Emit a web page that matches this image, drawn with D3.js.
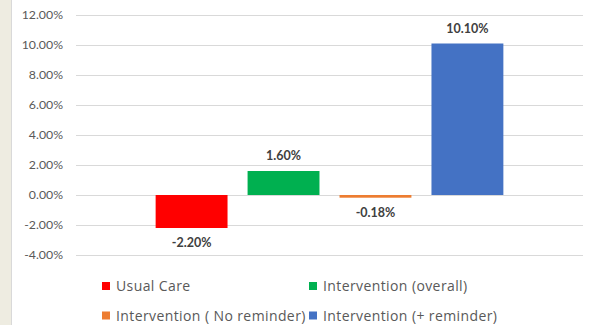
<!DOCTYPE html>
<html>
<head>
<meta charset="utf-8">
<script src="https://cdn.jsdelivr.net/npm/d3@7"></script>
<style>
  html, body { margin: 0; padding: 0; background: #ffffff; }
  svg { display: block; }
</style>
</head>
<body>
<svg id="chart" width="591" height="325"></svg>
<script>
// Change in outcome by study arm
const seriesNames = ["Usual Care", "Intervention (overall)", "Intervention ( No reminder)", "Intervention (+ reminder)"];
const seriesValues = [-2.20, 1.60, -0.18, 10.10];
const seriesColors = ["#ff0000", "#00b050", "#ed7d31", "#4472c4"];
const yTicks = [-4, -2, 0, 2, 4, 6, 8, 10, 12];

const W = 591, H = 325;
const plot = { left: 76, right: 583, top: 15, bottom: 255 };
const font = "Lato, 'Open Sans', sans-serif";
const legendFont = "'Open Sans', Lato, sans-serif";

// percentages with a plain hyphen for negatives
const pct = v => d3.format(".2f")(v).replace("\u2212", "-") + "%";

const svg = d3.select("#chart");

// beige margin strip on the left edge
svg.append("rect").attr("x", 0).attr("y", 0).attr("width", 11).attr("height", H).attr("fill", "#eeece1");
svg.append("line").attr("x1", 11.5).attr("x2", 11.5).attr("y1", 0).attr("y2", H)
  .attr("stroke", "#d9d9d9").attr("stroke-width", 1);

const y = d3.scaleLinear().domain([-4, 12]).range([plot.bottom, plot.top]);

// one category holding four clustered bars
const x0 = d3.scaleBand().domain(["all"]).range([plot.left, plot.right]).paddingOuter(0.229);
const x1 = d3.scaleBand().domain(seriesNames).range([0, x0.bandwidth()]).paddingInner(0.218);

// horizontal gridlines
const yAxis = d3.axisLeft(y).tickValues(yTicks)
  .tickSize(-(plot.right - plot.left)).tickPadding(13)
  .tickFormat(pct);

const gAxis = svg.append("g").attr("transform", `translate(${plot.left},0)`).call(yAxis);
gAxis.select(".domain").remove();
gAxis.selectAll(".tick line").attr("stroke", "#d9d9d9").attr("stroke-width", 1);
gAxis.selectAll(".tick text").attr("fill", "#595959").attr("font-family", font).attr("font-size", 12.3);

const data = seriesNames.map((name, i) => ({ name, value: seriesValues[i], color: seriesColors[i] }));

const gBars = svg.append("g").attr("transform", `translate(${x0("all")},0)`);
gBars.selectAll("rect").data(data).join("rect")
  .attr("x", d => x1(d.name))
  .attr("width", x1.bandwidth())
  .attr("y", d => y(Math.max(0, d.value)))
  .attr("height", d => Math.abs(y(d.value) - y(0)))
  .attr("fill", d => d.color);

gBars.selectAll("text").data(data).join("text")
  .attr("x", d => x1(d.name) + x1.bandwidth() / 2)
  .attr("y", d => d.value >= 0 ? y(d.value) - 11 : y(d.value) + 19)
  .attr("text-anchor", "middle")
  .attr("fill", "#404040")
  .attr("font-family", font)
  .attr("font-weight", "bold")
  .attr("font-size", 12.5)
  .text(d => pct(d.value));

// legend: two rows, two columns
const legendCols = [102, 309];
const legendRows = [282, 311.5];
const gLegend = svg.append("g");
data.forEach((d, i) => {
  const lx = legendCols[i % 2], ly = legendRows[Math.floor(i / 2)];
  gLegend.append("rect").attr("x", lx).attr("y", ly).attr("width", 8).attr("height", 8).attr("fill", d.color);
  gLegend.append("text").attr("x", lx + 14).attr("y", ly + 9)
    .attr("fill", "#595959").attr("font-family", legendFont).attr("font-size", 14)
    .attr("letter-spacing", 0.4)
    .text(d.name);
});
</script>
</body>
</html>
